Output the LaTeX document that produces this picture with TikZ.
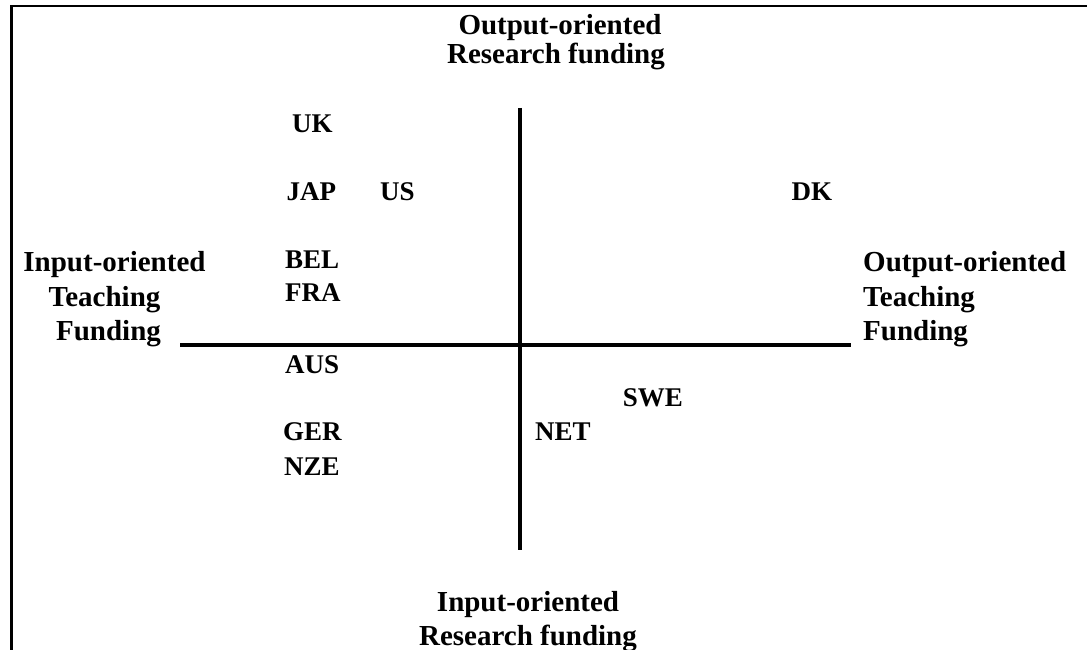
\documentclass[tikz,border=0pt]{standalone}
\usepackage{fontspec}
\setmainfont{Liberation Serif}
\begin{document}
\begin{tikzpicture}[x=1pt,y=-1pt,
  axislbl/.style={inner sep=0pt,font=\fontsize{29}{34}\selectfont\bfseries},
  country/.style={inner sep=0pt,anchor=base west,font=\fontsize{27}{32}\selectfont\bfseries},
  axisline/.style={line width=4pt},
  frameline/.style={line width=2.6pt}]
\useasboundingbox (0,0) rectangle (1087,650);
% frame (open at right and bottom)
\coordinate (fbl) at (11.5,650);
\coordinate (ftl) at (11.5,6);
\coordinate (ftr) at (1087,6);
\draw[frameline] (fbl) -- (ftl) -- (ftr);
% axes
\coordinate (hl) at (180,345);
\coordinate (hr) at (851,345);
\coordinate (vt) at (519.7,108);
\coordinate (vb) at (519.7,550);
\draw[axisline] (hl) -- (hr);
\draw[axisline] (vt) -- (vb);
% axis labels
\node[axislbl,anchor=base] (t1) at (560,35) {Output-oriented};
\node[axislbl,anchor=base] (t2) at (556,64) {Research funding};
\node[axislbl,anchor=base] (b1) at (528,611.7) {Input-oriented};
\node[axislbl,anchor=base] (b2) at (528,645) {Research funding};
\node[axislbl,anchor=base] (l1) at (114.5,271.7) {Input-oriented};
\node[axislbl,anchor=base] (l2) at (104.5,306) {Teaching};
\node[axislbl,anchor=base] (l3) at (108.5,340) {Funding};
\node[axislbl,anchor=base west] (r1) at (863,271.7) {Output-oriented};
\node[axislbl,anchor=base west] (r2) at (863,306) {Teaching};
\node[axislbl,anchor=base west] (r3) at (863,340) {Funding};
% countries
\node[country] (uk) at (292,133) {UK};
\node[country] (jap) at (286.5,200) {JAP};
\node[country] (us) at (380,200) {US};
\node[country] (dk) at (791.5,200) {DK};
\node[country] (bel) at (285,268) {BEL};
\node[country] (fra) at (285,301.7) {FRA};
\node[country] (aus) at (285,373) {AUS};
\node[country] (swe) at (622.7,406.7) {SWE};
\node[country] (ger) at (283,440.7) {GER};
\node[country] (net) at (535,440.7) {NET};
\node[country] (nze) at (284,475) {NZE};
\end{tikzpicture}
\end{document}
